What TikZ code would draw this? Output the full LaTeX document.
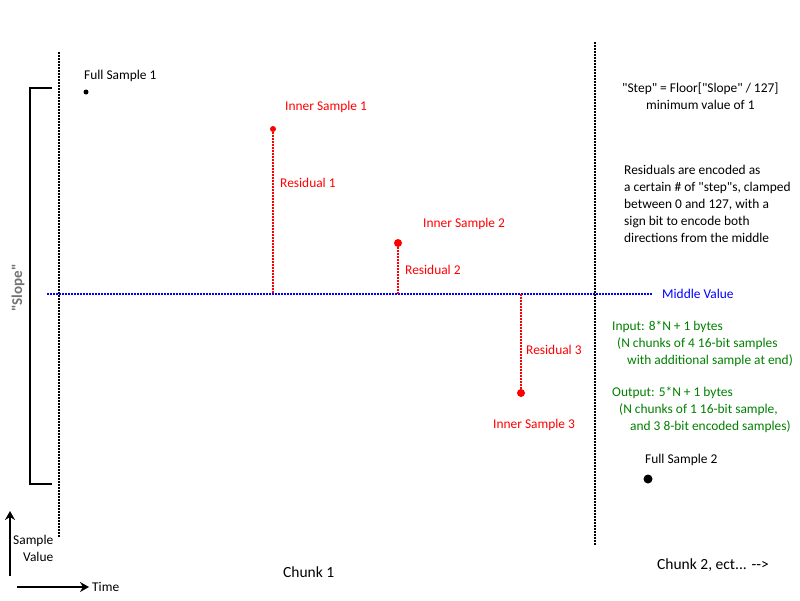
\documentclass[tikz,border=0pt]{standalone}
\usepackage{fontspec}
\setmainfont{Carlito}[Ligatures=TeXOff]
\usetikzlibrary{arrows.meta, positioning}

\begin{document}
\begin{tikzpicture}[x=1pt, y=-1pt,
  txt/.style={anchor=west, inner sep=0pt, font=\fontsize{13.4}{17}\selectfont},
  redtxt/.style={txt, text=red},
  greentxt/.style={txt, text=green!50!black, align=left},
  dot/.style={circle, fill, inner sep=0pt, minimum size=#1},
  chunkline/.style={line width=2pt, dash pattern=on 1.5pt off 1.5pt},
  resid/.style={red, line width=2pt, dash pattern=on 1.5pt off 1.5pt},
  axis/.style={line width=1.6pt, -{Stealth[length=9pt, width=10pt, inset=3pt]}}]
  \useasboundingbox (0,0) rectangle (800,600);

  % chunk borders and middle value
  \coordinate (c1top) at (59,52);  \coordinate (c1bot) at (59,538);
  \coordinate (c2top) at (595,42); \coordinate (c2bot) at (595,545);
  \draw[chunkline] (c1top) -- (c1bot);
  \draw[chunkline] (c2top) -- (c2bot);
  \coordinate (midL) at (47,294);
  \node[txt, text=blue] (midtxt) at (662,294) {Middle Value};
  \draw[blue, line width=2pt, dash pattern=on 1.5pt off 1.5pt] (midL) -- (652,294);

  % slope bracket
  \coordinate (brtop) at (52,88); \coordinate (brbot) at (52,484);
  \draw[line width=2pt] (brtop) -- ++(-22,0) |- (brbot);
  \node[rotate=90, text=black!55, font=\fontsize{15}{15}\selectfont\bfseries] (slope) at (18,288) {"Slope"};

  % full samples
  \node[dot=5pt] (fs1) at (86,92) {};
  \node[txt] at (84,76) {Full Sample 1};
  \node[dot=9pt] (fs2) at (648,479) {};
  \node[txt] at (645,460) {Full Sample 2};

  % inner samples and residuals
  \node[dot=6pt, red] (in1) at (273,129) {};
  \node[dot=8pt, red] (in2) at (398,243) {};
  \node[dot=8pt, red] (in3) at (521,393) {};
  \node[redtxt] at (285,107) {Inner Sample 1};
  \node[redtxt] at (423,224) {Inner Sample 2};
  \node[redtxt] at (493,425) {Inner Sample 3};
  \draw[resid] (in1) -- (in1 |- midL);
  \draw[resid] (in2) -- (in2 |- midL);
  \draw[resid] (in3) -- (in3 |- midL);
  \node[redtxt] at (280,183) {Residual 1};
  \node[redtxt] at (405,270) {Residual 2};
  \node[redtxt] at (526,350) {Residual 3};

  % notes
  \node[txt, align=center] (stepnote) at (622,96) {"Step" = Floor["Slope" / 127]\\minimum value of 1};
  \node[txt, align=left] (residnote) at (624,204) {Residuals are encoded as\\a certain \# of "step"s, clamped\\between 0 and 127, with a\\sign bit to encode both\\directions from the middle};
  \node[greentxt] (innote) at (612,344) {Input: 8*N + 1 bytes\\\hspace*{5pt}(N chunks of 4 16-bit samples\\\hspace*{15pt}with additional sample at end)};
  \node[greentxt] (outnote) at (612,410) {Output: 5*N + 1 bytes\\\hspace*{7pt}(N chunks of 1 16-bit sample,\\\hspace*{18pt}and 3 8-bit encoded samples)};

  % axes
  \coordinate (ax0) at (10,576);
  \draw[axis] (ax0) -- (10,511);
  \coordinate (ax1) at (17,587);
  \node[txt] (time) at (92,587) {Time};
  \draw[axis, shorten >=3pt] (ax1) -- (time.west);
  \node[txt, align=right] (sval) at (13,548) {Sample\\Value};

  % chunk labels
  \node[txt, font=\fontsize{15.5}{17}\selectfont] (chunk1) at (283,572) {Chunk 1};
  \node[txt, font=\fontsize{15.5}{17}\selectfont] (chunk2) at (657,565) {Chunk 2, ect... -->};
\end{tikzpicture}
\end{document}
